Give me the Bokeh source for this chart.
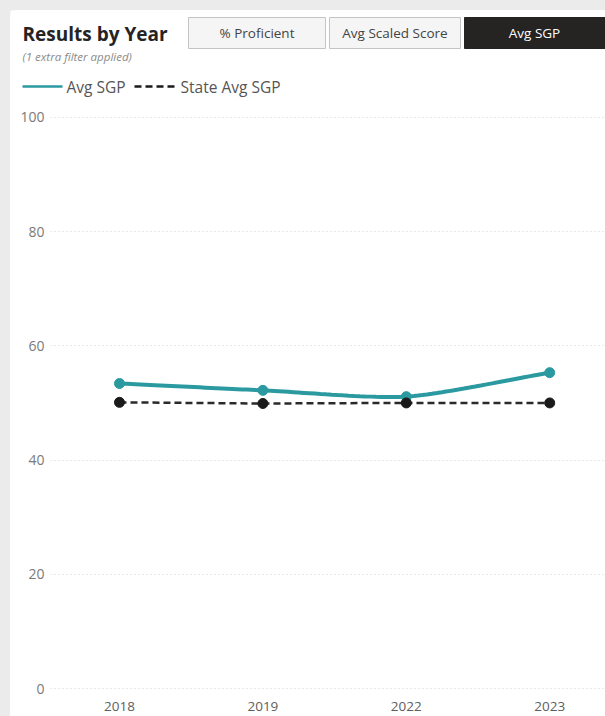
from bokeh.plotting import figure
from bokeh.layouts import column
from bokeh.models import Range1d, FixedTicker
from bokeh.core.properties import value
from bokeh.embed import file_html
from bokeh.resources import INLINE
import numpy as np

# ---- data ----
years = ["2018", "2019", "2022", "2023"]
avg_sgp = [53.4, 52.2, 51.1, 55.3]
state_avg_sgp = [50.1, 49.9, 50.0, 50.0]
y_ticks = [0, 20, 40, 60, 80, 100]
buttons = ["% Proficient", "Avg Scaled Score", "Avg SGP"]

TEAL = "#2b9aa0"
DARK = "#1a1a1a"
FONT = "Open Sans"
W = 595

# ---- header: title, slicer buttons, legend (pixel coordinates) ----
hdr = figure(width=W, height=90, x_range=Range1d(0, W), y_range=Range1d(90, 0),
             output_backend="svg", toolbar_location=None, min_border=0,
             outline_line_color=None, border_fill_color="white",
             background_fill_color="white")
hdr.axis.visible = False
hdr.grid.visible = False
hdr.frame_align = False

hdr.text(x=[12], y=[23], text=["Results by Year"], text_font=value(FONT),
         text_font_style="bold", text_font_size="19px", text_color="#252423",
         text_baseline="middle")
hdr.text(x=[12], y=[46], text=["(1 extra filter applied)"], text_font=value(FONT),
         text_font_style="italic", text_font_size="11.5px", text_color="#8a8a8a",
         text_baseline="middle")

btn_left = [178, 319, 454]
btn_right = [315, 450, 600]
btn_fill = ["#f5f5f5", "#f5f5f5", "#252423"]
btn_line = ["#c4c4c4", "#c4c4c4", "#252423"]
btn_text = ["#444444", "#444444", "#ffffff"]
hdr.quad(left=btn_left, right=btn_right, top=[7] * 3, bottom=[38] * 3,
         fill_color=btn_fill, line_color=btn_line, line_width=1)
hdr.text(x=[246.5, 384.5, 524], y=[22.5] * 3, text=buttons, text_font=value(FONT),
         text_font_size="13.5px", text_color=btn_text, text_align="center",
         text_baseline="middle")

# legend entries
hdr.line(x=[12, 52], y=[76, 76], line_color=TEAL, line_width=2.5)
hdr.text(x=[56], y=[76], text=["Avg SGP"], text_font=value(FONT),
         text_font_size="15.5px", text_color="#555555", text_baseline="middle")
hdr.line(x=[124, 168], y=[76, 76], line_color=DARK, line_width=2.5, line_dash="7 4")
hdr.text(x=[170], y=[76], text=["State Avg SGP"], text_font=value(FONT),
         text_font_size="15.5px", text_color="#555555", text_baseline="middle")

# ---- line chart ----
p = figure(width=W, height=616, x_range=Range1d(-0.481, 3.389),
           y_range=Range1d(-0.7, 101.2), output_backend="svg",
           toolbar_location=None, min_border_left=40, min_border_right=0,
           min_border_top=10, min_border_bottom=24, outline_line_color=None,
           border_fill_color="white", background_fill_color="white")
p.frame_align = False

xs = np.arange(len(years), dtype=float)

# smooth (cardinal spline) path through the Avg SGP points
def smooth_path(x, y, n=30):
    px = np.concatenate([[2 * x[0] - x[1]], x, [2 * x[-1] - x[-2]]])
    py = np.concatenate([[2 * y[0] - y[1]], y, [2 * y[-1] - y[-2]]])
    out_x, out_y = [], []
    for i in range(1, len(px) - 2):
        t = np.linspace(0, 1, n)
        for arr, src in ((out_x, px), (out_y, py)):
            p0, p1, p2, p3 = src[i - 1], src[i], src[i + 1], src[i + 2]
            m1 = (p2 - p0) / 2 * 0.7
            m2 = (p3 - p1) / 2 * 0.7
            h00 = 2 * t**3 - 3 * t**2 + 1
            h10 = t**3 - 2 * t**2 + t
            h01 = -2 * t**3 + 3 * t**2
            h11 = t**3 - t**2
            arr.extend(h00 * p1 + h10 * m1 + h01 * p2 + h11 * m2)
    return out_x, out_y

sx, sy = smooth_path(xs, np.array(avg_sgp))
p.line(sx, sy, line_color=TEAL, line_width=4)
p.scatter(xs, avg_sgp, size=10, fill_color=TEAL, line_color=TEAL)

p.line(xs, state_avg_sgp, line_color="#2a2a2a", line_width=2.5, line_dash="7 4")
p.scatter(xs, state_avg_sgp, size=10, fill_color=DARK, line_color=DARK)

# axes
p.xaxis.ticker = FixedTicker(ticks=list(xs))
p.xaxis.major_label_overrides = {int(i): y for i, y in enumerate(years)}
p.xaxis.major_label_overrides.update({float(i): y for i, y in enumerate(years)})
p.yaxis.ticker = FixedTicker(ticks=y_ticks)
for ax in (p.xaxis[0], p.yaxis[0]):
    ax.axis_line_color = None
    ax.major_tick_line_color = None
    ax.minor_tick_line_color = None
    ax.major_label_text_font = FONT
p.xaxis.major_label_text_font_size = "13.5px"
p.yaxis.major_label_text_font_size = "14px"
p.xaxis.major_label_text_color = "#605e5c"
p.yaxis.major_label_text_color = "#7a7a7a"
p.xaxis.major_label_standoff = 3
p.yaxis.major_label_standoff = 0

p.xgrid.visible = False
p.ygrid.ticker = FixedTicker(ticks=y_ticks)
p.ygrid.grid_line_color = "#d0d0d0"
p.ygrid.grid_line_dash = "1 3"
p.ygrid.grid_line_width = 1

panel = column(hdr, p, margin=(10, 0, 0, 10), spacing=0,
               styles={"background-color": "white", "border-radius": "7px 0 0 0"})
page = column(panel, width=605, height=716,
              styles={"background-color": "#ebebeb"})

open("out.html", "w").write(file_html(page, INLINE))
